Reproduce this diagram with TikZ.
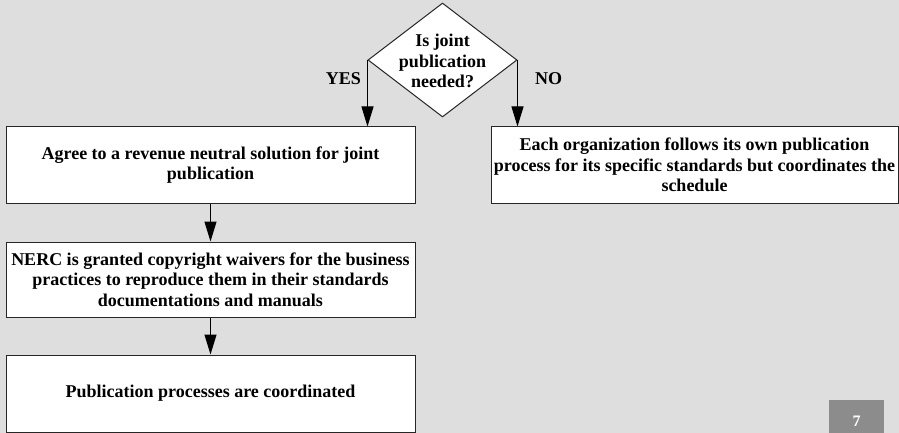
\documentclass[tikz,border=0pt]{standalone}
\usepackage{fontspec}
\setmainfont{Liberation Serif}
\usetikzlibrary{shapes.geometric,arrows.meta}
\definecolor{bgcol}{RGB}{222,222,222}
\definecolor{pagebox}{RGB}{140,140,140}
\begin{document}
\begin{tikzpicture}[x=1pt,y=-1pt,
  stepbox/.style={draw=black!85, line width=1pt, fill=white, minimum width=409pt, minimum height=76pt, inner sep=0pt, align=center, font=\bfseries\fontsize{18}{20.3}\selectfont},
  lbl/.style={font=\bfseries\fontsize{18}{20.3}\selectfont, inner sep=0pt},
  arr/.style={draw=black, line width=1pt, -{Triangle[length=20pt,width=12pt]}}]
\useasboundingbox[fill=bgcol] (0,0) rectangle (899,433);
\node[diamond, draw=black!85, line width=1pt, fill=white, minimum width=149pt, minimum height=114pt, inner sep=0pt] (d) at (442.5,60) {};
\node[lbl, align=center] (dt) at (442.5,61) {Is joint\\publication\\needed?};
\node[stepbox] (b1) at (210.5,165) {Agree to a revenue neutral solution for joint\\publication};
\node[stepbox, minimum height=75pt] (b2) at (210.5,279.5) {NERC is granted copyright waivers for the business\\practices to reproduce them in their standards\\documentations and manuals};
\node[stepbox, minimum height=77pt] (b3) at (210.5,393.5) {Publication processes are coordinated};
\node[stepbox, minimum width=407pt] (r1) at (694.5,165) {Each organization follows its own publication\\process for its specific standards but coordinates the\\schedule};
\node[lbl] (yes) at (343.5,79) {YES};
\node[lbl] (no) at (548.5,79) {NO};
\draw[arr] (d.west) -- (d.west |- b1.north);
\draw[arr] (d.east) -- (d.east |- r1.north);
\draw[arr] (b1.south) -- (b2.north);
\draw[arr] (b2.south) -- (b3.north);
\node[fill=pagebox, minimum width=55pt, minimum height=40pt, inner sep=0pt] (pg) at (856.5,420) {};
\node[text=white, font=\bfseries\fontsize{16}{18}\selectfont, inner sep=0pt] (pn) at (856.5,421) {7};
\end{tikzpicture}
\end{document}
